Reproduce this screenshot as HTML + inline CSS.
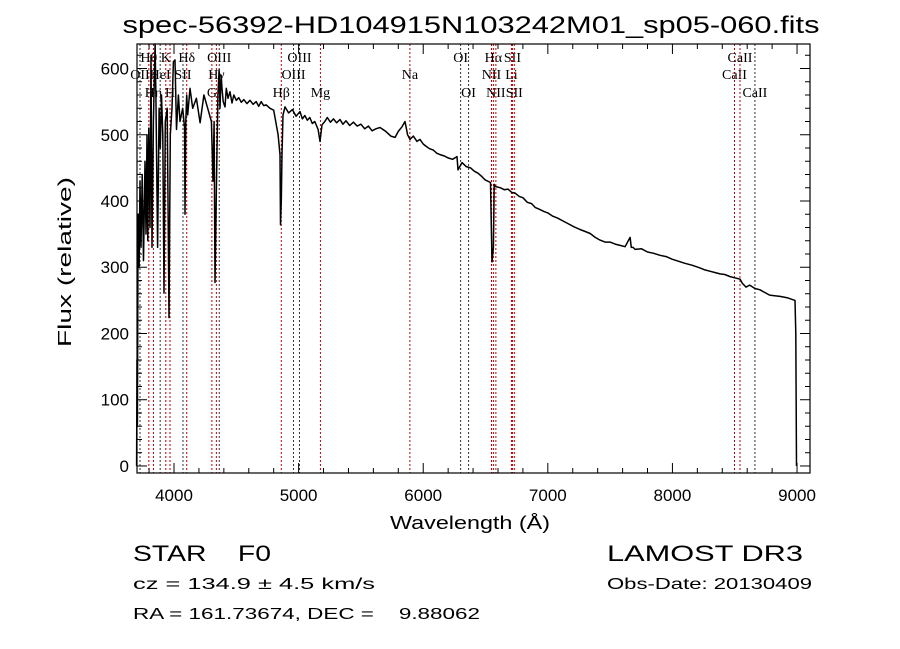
<!DOCTYPE html>
<html><head><meta charset="utf-8">
<style>
html,body{margin:0;padding:0;background:#fff;}
svg{display:block;}
text{font-family:"Liberation Sans",sans-serif;fill:#000;white-space:pre;}
.ser{font-family:"Liberation Serif",serif;font-size:14px;}
</style></head>
<body>
<svg id="chart" width="900" height="649" viewBox="0 0 900 649" xmlns="http://www.w3.org/2000/svg" xml:space="preserve">
<rect width="900" height="649" fill="#fff"/>
<text x="471" y="33" text-anchor="middle" font-size="24" textLength="697" lengthAdjust="spacingAndGlyphs">spec-56392-HD104915N103242M01_sp05-060.fits</text>
<g id="lines"></g>
<g id="series"></g>
<g id="axes"></g>
<text x="470" y="529" text-anchor="middle" font-size="18" textLength="160" lengthAdjust="spacingAndGlyphs">Wavelength (Å)</text>
<text transform="translate(71,262) rotate(-90)" text-anchor="middle" font-size="18" textLength="170" lengthAdjust="spacingAndGlyphs">Flux (relative)</text>
<text x="133" y="561" font-size="22" textLength="138" lengthAdjust="spacingAndGlyphs">STAR    F0</text>
<text x="607" y="561" font-size="22" textLength="196" lengthAdjust="spacingAndGlyphs">LAMOST DR3</text>
<text x="133" y="589" font-size="16" textLength="242" lengthAdjust="spacingAndGlyphs">cz = 134.9 ± 4.5 km/s</text>
<text x="607" y="589" font-size="16" textLength="205" lengthAdjust="spacingAndGlyphs">Obs-Date: 20130409</text>
<text x="133" y="619" font-size="16" textLength="347" lengthAdjust="spacingAndGlyphs">RA = 161.73674, DEC =    9.88062</text>
</svg>
<script>
const wavelengths=[3700,3703,3706,3712,3720,3727,3735,3745,3755,3767,3775,3783,3790,3798,3807,3815,3823,3835,3848,3855,3868,3880,3890,3900,3910,3920,3930,3945,3960,3970,3984,3995,4008,4020,4035,4048,4070,4085,4088,4095,4102,4110,4128,4150,4180,4209,4240,4270,4300,4313,4322,4329,4340,4352,4362,4369,4378,4385,4395,4409,4420,4433,4449,4465,4480,4500,4520,4540,4560,4585,4610,4635,4660,4680,4700,4720,4740,4770,4800,4835,4851,4855,4861,4867,4875,4891,4920,4950,4980,5011,5030,5050,5070,5090,5110,5130,5156,5172,5188,5210,5230,5255,5280,5305,5332,5355,5380,5410,5440,5470,5500,5530,5560,5590,5620,5653,5700,5740,5774,5800,5830,5854,5875,5894,5920,5950,5974,6000,6020,6050,6080,6110,6135,6170,6200,6235,6271,6279,6311,6345,6380,6410,6440,6470,6496,6540,6552,6563,6570,6576,6620,6650,6680,6710,6737,6770,6800,6835,6870,6900,6937,6970,7000,7040,7080,7120,7160,7210,7258,7300,7340,7380,7419,7460,7500,7540,7580,7620,7660,7670,7684,7700,7750,7800,7850,7900,7950,8000,8050,8100,8160,8221,8260,8300,8340,8382,8420,8460,8500,8543,8560,8590,8620,8660,8703,8740,8780,8820,8863,8920,8984,8990,8996,9000];
const fluxes=[0,160,60,380,300,430,330,440,310,460,350,500,340,510,360,620,330,520,640,560,330,540,480,560,500,261,520,540,224,500,540,610,613,508,560,520,540,510,380,520,560,530,570,540,555,518,560,540,520,430,520,277,420,560,598,540,590,570,550,542,570,555,565,548,560,552,556,549,553,547,552,546,550,543,550,544,545,540,537,500,470,364,400,470,530,542,533,538,528,535,524,529,522,526,517,520,508,490,515,520,526,519,524,518,523,516,521,514,519,513,516,509,513,506,509,511,505,498,496,505,512,520,500,493,498,490,493,486,483,479,477,472,470,468,465,463,467,447,458,452,450,445,442,437,432,428,308,330,425,422,420,417,418,413,412,407,405,398,396,390,387,384,382,377,374,370,366,361,357,354,351,345,341,338,338,335,333,331,345,330,330,327,328,323,321,318,316,312,309,306,303,299,296,294,292,290,289,286,284,282,276,270,273,268,266,262,258,257,256,254,250,200,0];
const yTicks=[0,100,200,300,400,500,600];
const xTicks=[4000,5000,6000,7000,8000,9000];
const lineWl=[3727,3798,3835,3889,3934,3968,4072,4102,4304,4340,4363,4861,4959,5007,5175,5893,6300,6364,6548,6563,6583,6708,6716,6731,8498,8542,8662];
const lineLabels=["OII","Hθ","Hη","HeI","K","H","SII","Hδ","G","Hγ","OIII","Hβ","OIII","OIII","Mg","Na","OI","OI","NII","Hα","NII","Li","SII","SII","CaII","CaII","CaII"];
const lineRows=[1,0,2,1,0,2,1,0,2,1,0,2,1,0,2,1,0,2,1,0,2,1,0,2,1,0,2];
const lineColors=["k","r","r","k","r","r","k","r","r","r","k","r","k","k","r","r","k","k","r","r","r","r","r","r","r","r","k"];
const NS="http://www.w3.org/2000/svg";
const X0=137,X1=810,Y0=44,Y1=473;
const xmin=3703,xmax=9104,ymin=-10.6,ymax=637;
function sx(w){return X0+(w-xmin)/(xmax-xmin)*(X1-X0);}
function sy(f){return Y1-(f-ymin)/(ymax-ymin)*(Y1-Y0);}
function mk(tag,attrs,parent){const e=document.createElementNS(NS,tag);for(const k in attrs)e.setAttribute(k,attrs[k]);parent.appendChild(e);return e;}
const gL=document.getElementById('lines'),gS=document.getElementById('series'),gA=document.getElementById('axes');
const rowY=[62,79,97];
lineWl.forEach((w,i)=>{
  const x=sx(w);
  const ln=mk('line',{x1:x,x2:x,y1:Y0,y2:Y1,stroke:lineColors[i]==='r'?'#c00000':'#333','stroke-width':1,'stroke-dasharray':'2,2'},gL);
  
  
  const t=mk('text',{x:x,y:rowY[lineRows[i]],'text-anchor':'middle','class':'ser'},gL);
  t.textContent=lineLabels[i];
  
  
});
let d='';
wavelengths.forEach((w,i)=>{const f=Math.max(ymin,Math.min(ymax,fluxes[i]));d+=(i?'L':'M')+sx(w).toFixed(1)+','+sy(f).toFixed(1);});
const p=mk('path',{d:d,fill:'none',stroke:'#000','stroke-width':1.5,'stroke-linejoin':'round'},gS);


const fr=mk('rect',{x:X0,y:Y0,width:X1-X0,height:Y1-Y0,fill:'none',stroke:'#000','stroke-width':1.2},gA);


for(let w=3800;w<=9100;w+=200){const x=sx(w);const maj=w%1000===0;const L=maj?10:5;
  mk('line',{x1:x,x2:x,y1:Y1,y2:Y1-L,stroke:'#000'},gA);mk('line',{x1:x,x2:x,y1:Y0,y2:Y0+L,stroke:'#000'},gA);}
for(let f=0;f<=620;f+=20){const y=sy(f);const maj=f%100===0;const L=maj?10:5;
  mk('line',{x1:X0,x2:X0+L,y1:y,y2:y,stroke:'#000'},gA);mk('line',{x1:X1,x2:X1-L,y1:y,y2:y,stroke:'#000'},gA);}
xTicks.forEach(v=>{const t=mk('text',{x:sx(v),y:501,'text-anchor':'middle','font-size':17},gA);t.textContent=v;
  
  });
yTicks.forEach(v=>{const t=mk('text',{x:129,y:sy(v)+6,'text-anchor':'end','font-size':17},gA);t.textContent=v;
  
  });
</script>
</body></html>
